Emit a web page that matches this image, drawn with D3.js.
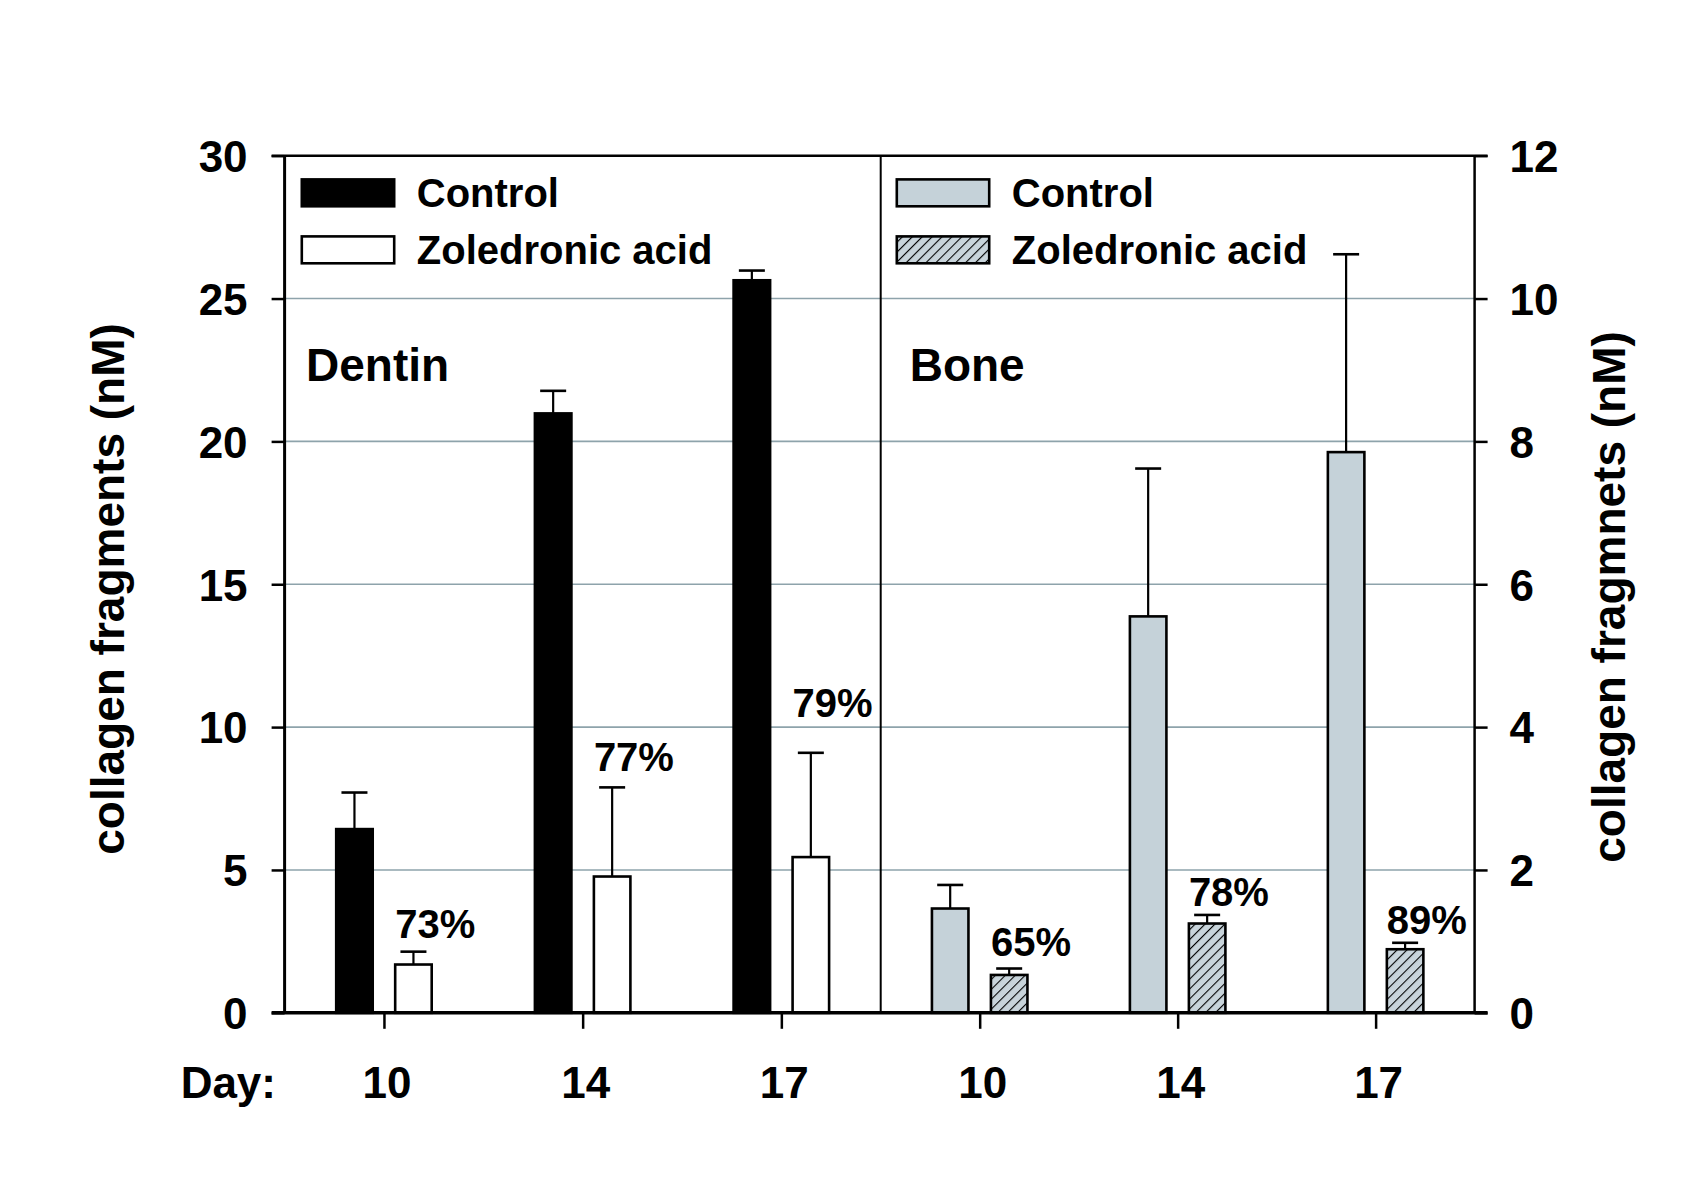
<!DOCTYPE html>
<html><head><meta charset="utf-8">
<script src="https://cdn.jsdelivr.net/npm/d3@7"></script>
<style>body{margin:0;background:#fff}svg{display:block}text{font-family:"Liberation Sans",Arial,sans-serif;font-weight:bold;fill:#000}</style>
</head><body>
<svg id="c" width="1684" height="1192"></svg>
<script>
// ---------- data ----------
const days = ["10", "14", "17"];
const dentinControl = [6.43, 20.98, 25.64];
const dentinControlErr = [1.28, 0.79, 0.34];
const dentinZol = [1.69, 4.77, 5.45];
const dentinZolErr = [0.45, 3.12, 3.65];
const dentinPct = ["73%", "77%", "79%"];
const dentinPctAt = [2.63, 8.46, 10.34];
const boneControl = [1.46, 5.55, 7.85];
const boneControlErr = [0.33, 2.07, 2.77];
const boneZol = [0.53, 1.25, 0.89];
const boneZolErr = [0.09, 0.12, 0.09];
const bonePct = ["65%", "78%", "89%"];
const bonePctAt = [0.80, 1.50, 1.10];
const leftTicks = [0, 5, 10, 15, 20, 25, 30];
const rightTicks = [0, 2, 4, 6, 8, 10, 12];
const seriesNames = ["Control", "Zoledronic acid"];
const panelNames = ["Dentin", "Bone"];
const leftTitle = "collagen fragments (nM)";
const rightTitle = "collagen fragmnets (nM)";
const dayLabel = "Day:";

// ---------- layout ----------
const svg = d3.select("#c");
const L = 284.6, R = 1474.6, T = 155.7, B = 1012.8, MID = 880.7;
const yL = d3.scaleLinear().domain([0, 30]).range([B, T]);
const yR = d3.scaleLinear().domain([0, 12]).range([B, T]);
const xD = d3.scalePoint().domain(days).range([L, MID]).padding(0.5);
const xB = d3.scalePoint().domain(days).range([MID, R]).padding(0.5);
const x1 = d3.scaleBand().domain(["c", "z"]).range([-47.75, 47.75]).paddingInner(0.381).paddingOuter(0);
const bw = x1.bandwidth();

// hatch pattern
const defs = svg.append("defs");
const pat = defs.append("pattern").attr("id", "hatch").attr("patternUnits", "userSpaceOnUse")
  .attr("width", 7).attr("height", 7).attr("patternTransform", "rotate(45)");
pat.append("rect").attr("width", 7).attr("height", 7).attr("fill", "#c8d4db");
pat.append("line").attr("x1", 0).attr("y1", 0).attr("x2", 0).attr("y2", 7)
  .attr("stroke", "#000").attr("stroke-width", 2.2);

// gridlines
svg.append("g").selectAll("line").data(leftTicks.filter(d => d > 0 && d < 30)).join("line")
  .attr("x1", L).attr("x2", R).attr("y1", d => yL(d)).attr("y2", d => yL(d))
  .attr("stroke", "#8ea3ab").attr("stroke-width", 1.6);

// axes
const axL = svg.append("g").attr("transform", `translate(${L},0)`)
  .call(d3.axisLeft(yL).tickValues(leftTicks).tickSize(13).tickPadding(24));
const axR = svg.append("g").attr("transform", `translate(${R},0)`)
  .call(d3.axisRight(yR).tickValues(rightTicks).tickSize(13).tickPadding(22));
[axL, axR].forEach(a => {
  a.select(".domain").remove();
  a.selectAll("line").attr("stroke", "#000").attr("stroke-width", 2.5);
  a.selectAll("text").style("font-size", "44px").attr("dy", "0.36em");
});
const axBD = svg.append("g").attr("transform", `translate(0,${B})`)
  .call(d3.axisBottom(xD).tickSize(16).tickFormat(""));
const axBB = svg.append("g").attr("transform", `translate(0,${B})`)
  .call(d3.axisBottom(xB).tickSize(16).tickFormat(""));
[axBD, axBB].forEach(a => {
  a.select(".domain").remove();
  a.selectAll("line").attr("stroke", "#000").attr("stroke-width", 2.5);
});

// frame
svg.append("line").attr("x1", L - 13).attr("x2", R + 13).attr("y1", T).attr("y2", T).attr("stroke", "#000").attr("stroke-width", 2.5);
svg.append("line").attr("x1", L).attr("x2", L).attr("y1", T).attr("y2", B).attr("stroke", "#000").attr("stroke-width", 3);
svg.append("line").attr("x1", R).attr("x2", R).attr("y1", T).attr("y2", B).attr("stroke", "#000").attr("stroke-width", 2.5);
svg.append("line").attr("x1", MID).attr("x2", MID).attr("y1", T).attr("y2", B).attr("stroke", "#000").attr("stroke-width", 2);

// bars
function drawGroup(xs, ys, vals, errs, key, fill) {
  const g = svg.append("g");
  const rows = days.map((d, i) => ({d, v: vals[i], e: errs[i]}));
  g.selectAll("line.err").data(rows).join("line").attr("class", "err")
    .attr("x1", r => xs(r.d) + x1(key) + bw / 2).attr("x2", r => xs(r.d) + x1(key) + bw / 2)
    .attr("y1", r => ys(r.v)).attr("y2", r => ys(r.v + r.e))
    .attr("stroke", "#000").attr("stroke-width", 2.2);
  g.selectAll("line.cap").data(rows).join("line").attr("class", "cap")
    .attr("x1", r => xs(r.d) + x1(key) + bw / 2 - 13).attr("x2", r => xs(r.d) + x1(key) + bw / 2 + 13)
    .attr("y1", r => ys(r.v + r.e)).attr("y2", r => ys(r.v + r.e))
    .attr("stroke", "#000").attr("stroke-width", 2.6);
  g.selectAll("rect").data(rows).join("rect")
    .attr("x", r => xs(r.d) + x1(key)).attr("width", bw)
    .attr("y", r => ys(r.v)).attr("height", r => ys(0) - ys(r.v))
    .attr("fill", fill).attr("stroke", "#000").attr("stroke-width", 2.6);
}
drawGroup(xD, yL, dentinControl, dentinControlErr, "c", "#000");
drawGroup(xD, yL, dentinZol, dentinZolErr, "z", "#fff");
drawGroup(xB, yR, boneControl, boneControlErr, "c", "#c5d2d9");
drawGroup(xB, yR, boneZol, boneZolErr, "z", "url(#hatch)");

// bottom axis line on top
svg.append("line").attr("x1", L - 13).attr("x2", R + 13).attr("y1", B).attr("y2", B).attr("stroke", "#000").attr("stroke-width", 3.5);

// percent labels
function pctLabels(xs, ys, labels, at) {
  svg.append("g").selectAll("text").data(days).join("text")
    .attr("x", (d, i) => xs(d) + x1("z")).attr("y", (d, i) => ys(at[i]))
    .style("font-size", "40px").text((d, i) => labels[i]);
}
pctLabels(xD, yL, dentinPct, dentinPctAt);
pctLabels(xB, yR, bonePct, bonePctAt);

// day labels
svg.append("text").attr("x", 276).attr("y", 1098).attr("text-anchor", "end").style("font-size", "44px").text(dayLabel);
[xD, xB].forEach(xs => {
  svg.append("g").selectAll("text").data(days).join("text")
    .attr("x", d => xs(d) + 3).attr("y", 1098).attr("text-anchor", "middle")
    .style("font-size", "44px").text(d => d);
});

// panel names
svg.append("text").attr("x", 306).attr("y", 381).style("font-size", "46px").text(panelNames[0]);
svg.append("text").attr("x", 909.7).attr("y", 381).style("font-size", "46px").text(panelNames[1]);

// legends
function legend(x0, fills) {
  fills.forEach((f, i) => {
    const yc = 192.8 + i * 57;
    svg.append("rect").attr("x", x0).attr("y", yc - 13.4).attr("width", 92.4).attr("height", 26.9)
      .attr("fill", f).attr("stroke", "#000").attr("stroke-width", 2.6);
    svg.append("text").attr("x", x0 + 115).attr("y", yc).attr("dy", "0.36em")
      .style("font-size", "40px").text(seriesNames[i]);
  });
}
legend(301.8, ["#000", "#fff"]);
legend(896.8, ["#c5d2d9", "url(#hatch)"]);

// axis titles
svg.append("text").attr("transform", "translate(107,589) rotate(-90)").attr("text-anchor", "middle")
  .attr("dy", "0.36em").style("font-size", "46px").text(leftTitle);
svg.append("text").attr("transform", "translate(1608,597) rotate(-90)").attr("text-anchor", "middle")
  .attr("dy", "0.36em").style("font-size", "46px").text(rightTitle);
</script>
</body></html>
